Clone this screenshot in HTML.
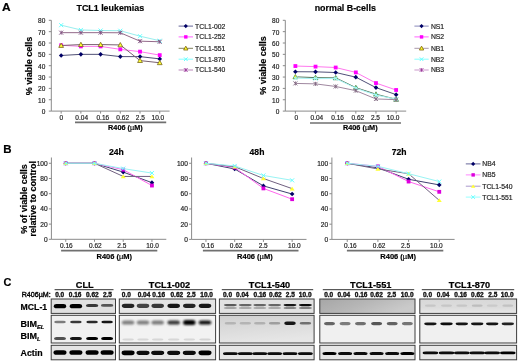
<!DOCTYPE html><html><head><meta charset="utf-8"><style>html,body{margin:0;padding:0;background:#fff;overflow:hidden;width:520px;height:362px;}svg{display:block;filter:blur(0.35px);}text{font-family:"Liberation Sans",sans-serif;stroke:currentColor;stroke-width:0.18px;}</style></head><body>
<svg width="520" height="362" viewBox="0 0 520 362">
<rect width="520" height="362" fill="#fff"/>
<text transform="translate(2.0,10.9) scale(1.13,1)" font-size="10.6" font-weight="bold">A</text>
<line x1="51.3" y1="20.3" x2="51.3" y2="111.1" stroke="#8a8a8a" stroke-width="1"/>
<line x1="51.3" y1="111.1" x2="169.6" y2="111.1" stroke="#8a8a8a" stroke-width="1"/>
<line x1="48.8" y1="111.10" x2="51.3" y2="111.10" stroke="#8a8a8a" stroke-width="1"/>
<text x="45.30" y="114.10" font-size="6.5" font-weight="normal" text-anchor="end" fill="#222" color="#222" >0</text>
<line x1="48.8" y1="99.75" x2="51.3" y2="99.75" stroke="#8a8a8a" stroke-width="1"/>
<text x="45.30" y="102.75" font-size="6.5" font-weight="normal" text-anchor="end" fill="#222" color="#222" >10</text>
<line x1="48.8" y1="88.40" x2="51.3" y2="88.40" stroke="#8a8a8a" stroke-width="1"/>
<text x="45.30" y="91.40" font-size="6.5" font-weight="normal" text-anchor="end" fill="#222" color="#222" >20</text>
<line x1="48.8" y1="77.05" x2="51.3" y2="77.05" stroke="#8a8a8a" stroke-width="1"/>
<text x="45.30" y="80.05" font-size="6.5" font-weight="normal" text-anchor="end" fill="#222" color="#222" >30</text>
<line x1="48.8" y1="65.70" x2="51.3" y2="65.70" stroke="#8a8a8a" stroke-width="1"/>
<text x="45.30" y="68.70" font-size="6.5" font-weight="normal" text-anchor="end" fill="#222" color="#222" >40</text>
<line x1="48.8" y1="54.35" x2="51.3" y2="54.35" stroke="#8a8a8a" stroke-width="1"/>
<text x="45.30" y="57.35" font-size="6.5" font-weight="normal" text-anchor="end" fill="#222" color="#222" >50</text>
<line x1="48.8" y1="43.00" x2="51.3" y2="43.00" stroke="#8a8a8a" stroke-width="1"/>
<text x="45.30" y="46.00" font-size="6.5" font-weight="normal" text-anchor="end" fill="#222" color="#222" >60</text>
<line x1="48.8" y1="31.65" x2="51.3" y2="31.65" stroke="#8a8a8a" stroke-width="1"/>
<text x="45.30" y="34.65" font-size="6.5" font-weight="normal" text-anchor="end" fill="#222" color="#222" >70</text>
<line x1="48.8" y1="20.30" x2="51.3" y2="20.30" stroke="#8a8a8a" stroke-width="1"/>
<text x="45.30" y="23.30" font-size="6.5" font-weight="normal" text-anchor="end" fill="#222" color="#222" >80</text>
<line x1="61.16" y1="111.1" x2="61.16" y2="113.6" stroke="#8a8a8a" stroke-width="1"/>
<text x="61.20" y="120.30" font-size="6.5" font-weight="normal" text-anchor="middle" fill="#222" color="#222" >0</text>
<line x1="80.88" y1="111.1" x2="80.88" y2="113.6" stroke="#8a8a8a" stroke-width="1"/>
<text x="81.70" y="120.30" font-size="6.5" font-weight="normal" text-anchor="middle" fill="#222" color="#222" >0.04</text>
<line x1="100.59" y1="111.1" x2="100.59" y2="113.6" stroke="#8a8a8a" stroke-width="1"/>
<text x="102.80" y="120.30" font-size="6.5" font-weight="normal" text-anchor="middle" fill="#222" color="#222" >0.16</text>
<line x1="120.31" y1="111.1" x2="120.31" y2="113.6" stroke="#8a8a8a" stroke-width="1"/>
<text x="122.70" y="120.30" font-size="6.5" font-weight="normal" text-anchor="middle" fill="#222" color="#222" >0.62</text>
<line x1="140.02" y1="111.1" x2="140.02" y2="113.6" stroke="#8a8a8a" stroke-width="1"/>
<text x="140.30" y="120.30" font-size="6.5" font-weight="normal" text-anchor="middle" fill="#222" color="#222" >2.5</text>
<line x1="159.74" y1="111.1" x2="159.74" y2="113.6" stroke="#8a8a8a" stroke-width="1"/>
<text x="157.90" y="120.30" font-size="6.5" font-weight="normal" text-anchor="middle" fill="#222" color="#222" >10.0</text>
<polyline points="61.16,55.48 80.88,54.35 100.59,54.35 120.31,56.62 140.02,56.62 159.74,58.89" fill="none" stroke="#505075" stroke-width="1"/>
<path d="M61.16 53.18L63.46 55.48L61.16 57.78L58.86 55.48Z" fill="#000066"/>
<path d="M80.88 52.05L83.17 54.35L80.88 56.65L78.58 54.35Z" fill="#000066"/>
<path d="M100.59 52.05L102.89 54.35L100.59 56.65L98.29 54.35Z" fill="#000066"/>
<path d="M120.31 54.32L122.61 56.62L120.31 58.92L118.01 56.62Z" fill="#000066"/>
<path d="M140.02 54.32L142.32 56.62L140.02 58.92L137.72 56.62Z" fill="#000066"/>
<path d="M159.74 56.59L162.04 58.89L159.74 61.19L157.44 58.89Z" fill="#000066"/>
<polyline points="61.16,45.27 80.88,46.40 100.59,46.40 120.31,49.36 140.02,51.63 159.74,55.14" fill="none" stroke="#ff77ee" stroke-width="1"/>
<rect x="59.26" y="43.37" width="3.80" height="3.80" fill="#ff00ff"/>
<rect x="78.97" y="44.50" width="3.80" height="3.80" fill="#ff00ff"/>
<rect x="98.69" y="44.50" width="3.80" height="3.80" fill="#ff00ff"/>
<rect x="118.41" y="47.46" width="3.80" height="3.80" fill="#ff00ff"/>
<rect x="138.12" y="49.73" width="3.80" height="3.80" fill="#ff00ff"/>
<rect x="157.84" y="53.24" width="3.80" height="3.80" fill="#ff00ff"/>
<polyline points="61.16,45.50 80.88,44.59 100.59,44.59 120.31,44.93 140.02,60.59 159.74,62.75" fill="none" stroke="#7a6070" stroke-width="1"/>
<path d="M61.16 43.10L63.56 47.42L58.76 47.42Z" fill="#ffff33" stroke="#7a6a20" stroke-width="0.8"/>
<path d="M80.88 42.19L83.28 46.51L78.47 46.51Z" fill="#ffff33" stroke="#7a6a20" stroke-width="0.8"/>
<path d="M100.59 42.19L102.99 46.51L98.19 46.51Z" fill="#ffff33" stroke="#7a6a20" stroke-width="0.8"/>
<path d="M120.31 42.53L122.71 46.85L117.91 46.85Z" fill="#ffff33" stroke="#7a6a20" stroke-width="0.8"/>
<path d="M140.02 58.19L142.42 62.51L137.62 62.51Z" fill="#ffff33" stroke="#7a6a20" stroke-width="0.8"/>
<path d="M159.74 60.35L162.14 64.67L157.34 64.67Z" fill="#ffff33" stroke="#7a6a20" stroke-width="0.8"/>
<polyline points="61.16,25.18 80.88,29.95 100.59,30.52 120.31,30.74 140.02,36.19 159.74,40.73" fill="none" stroke="#99eeee" stroke-width="1"/>
<path d="M59.16 23.18L63.16 27.18M63.16 23.18L59.16 27.18" stroke="#66ffff" stroke-width="1"/>
<path d="M78.88 27.95L82.88 31.95M82.88 27.95L78.88 31.95" stroke="#66ffff" stroke-width="1"/>
<path d="M98.59 28.52L102.59 32.52M102.59 28.52L98.59 32.52" stroke="#66ffff" stroke-width="1"/>
<path d="M118.31 28.74L122.31 32.74M122.31 28.74L118.31 32.74" stroke="#66ffff" stroke-width="1"/>
<path d="M138.02 34.19L142.02 38.19M142.02 34.19L138.02 38.19" stroke="#66ffff" stroke-width="1"/>
<path d="M157.74 38.73L161.74 42.73M161.74 38.73L157.74 42.73" stroke="#66ffff" stroke-width="1"/>
<polyline points="61.16,32.67 80.88,32.67 100.59,32.67 120.31,32.78 140.02,41.18 159.74,41.75" fill="none" stroke="#946a8a" stroke-width="1"/>
<path d="M59.16 30.67L63.16 34.67M63.16 30.67L59.16 34.67M61.16 30.67L61.16 34.67" stroke="#805080" stroke-width="0.9"/>
<path d="M78.88 30.67L82.88 34.67M82.88 30.67L78.88 34.67M80.88 30.67L80.88 34.67" stroke="#805080" stroke-width="0.9"/>
<path d="M98.59 30.67L102.59 34.67M102.59 30.67L98.59 34.67M100.59 30.67L100.59 34.67" stroke="#805080" stroke-width="0.9"/>
<path d="M118.31 30.78L122.31 34.78M122.31 30.78L118.31 34.78M120.31 30.78L120.31 34.78" stroke="#805080" stroke-width="0.9"/>
<path d="M138.02 39.18L142.02 43.18M142.02 39.18L138.02 43.18M140.02 39.18L140.02 43.18" stroke="#805080" stroke-width="0.9"/>
<path d="M157.74 39.75L161.74 43.75M161.74 39.75L157.74 43.75M159.74 39.75L159.74 43.75" stroke="#805080" stroke-width="0.9"/>
<text x="110.30" y="11.20" font-size="8.9" font-weight="bold" text-anchor="middle" fill="#000" color="#000" >TCL1 leukemias</text>
<text transform="translate(32.4,65.9) rotate(-90)" font-size="9" font-weight="bold" text-anchor="middle">% viable cells</text>
<line x1="75" y1="122.4" x2="166.2" y2="122.4" stroke="#707070" stroke-width="1.7"/>
<text x="125.40" y="129.90" font-size="7.3" font-weight="bold" text-anchor="middle">R406 (<tspan font-weight="normal">&#181;</tspan>M)</text>
<line x1="178.6" y1="26.1" x2="193" y2="26.1" stroke="#666699" stroke-width="1"/>
<path d="M185.80 24.03L187.87 26.10L185.80 28.17L183.73 26.10Z" fill="#000066"/>
<text x="195.10" y="28.50" font-size="6.8" font-weight="normal" text-anchor="start" fill="#222" color="#222" >TCL1-002</text>
<line x1="178.6" y1="36.9" x2="193" y2="36.9" stroke="#ff66ff" stroke-width="1"/>
<rect x="184.09" y="35.19" width="3.42" height="3.42" fill="#ff00ff"/>
<text x="195.10" y="39.30" font-size="6.8" font-weight="normal" text-anchor="start" fill="#222" color="#222" >TCL1-252</text>
<line x1="178.6" y1="48.3" x2="193" y2="48.3" stroke="#808060" stroke-width="1"/>
<path d="M185.80 46.14L187.96 50.03L183.64 50.03Z" fill="#ffff33" stroke="#806600" stroke-width="0.8"/>
<text x="195.10" y="50.70" font-size="6.8" font-weight="normal" text-anchor="start" fill="#222" color="#222" >TCL1-551</text>
<line x1="178.6" y1="59.2" x2="193" y2="59.2" stroke="#88ffff" stroke-width="1"/>
<path d="M184.00 57.40L187.60 61.00M187.60 57.40L184.00 61.00" stroke="#66ffff" stroke-width="1"/>
<text x="195.10" y="61.60" font-size="6.8" font-weight="normal" text-anchor="start" fill="#222" color="#222" >TCL1-870</text>
<line x1="178.6" y1="70.0" x2="193" y2="70.0" stroke="#bb88bb" stroke-width="1"/>
<path d="M184.00 68.20L187.60 71.80M187.60 68.20L184.00 71.80M185.80 68.20L185.80 71.80" stroke="#993399" stroke-width="0.9"/>
<text x="195.10" y="72.40" font-size="6.8" font-weight="normal" text-anchor="start" fill="#222" color="#222" >TCL1-540</text>
<line x1="285.3" y1="20.3" x2="285.3" y2="111.1" stroke="#8a8a8a" stroke-width="1"/>
<line x1="285.3" y1="111.1" x2="406.2" y2="111.1" stroke="#8a8a8a" stroke-width="1"/>
<line x1="282.8" y1="111.10" x2="285.3" y2="111.10" stroke="#8a8a8a" stroke-width="1"/>
<text x="279.30" y="114.10" font-size="6.5" font-weight="normal" text-anchor="end" fill="#222" color="#222" >0</text>
<line x1="282.8" y1="99.75" x2="285.3" y2="99.75" stroke="#8a8a8a" stroke-width="1"/>
<text x="279.30" y="102.75" font-size="6.5" font-weight="normal" text-anchor="end" fill="#222" color="#222" >10</text>
<line x1="282.8" y1="88.40" x2="285.3" y2="88.40" stroke="#8a8a8a" stroke-width="1"/>
<text x="279.30" y="91.40" font-size="6.5" font-weight="normal" text-anchor="end" fill="#222" color="#222" >20</text>
<line x1="282.8" y1="77.05" x2="285.3" y2="77.05" stroke="#8a8a8a" stroke-width="1"/>
<text x="279.30" y="80.05" font-size="6.5" font-weight="normal" text-anchor="end" fill="#222" color="#222" >30</text>
<line x1="282.8" y1="65.70" x2="285.3" y2="65.70" stroke="#8a8a8a" stroke-width="1"/>
<text x="279.30" y="68.70" font-size="6.5" font-weight="normal" text-anchor="end" fill="#222" color="#222" >40</text>
<line x1="282.8" y1="54.35" x2="285.3" y2="54.35" stroke="#8a8a8a" stroke-width="1"/>
<text x="279.30" y="57.35" font-size="6.5" font-weight="normal" text-anchor="end" fill="#222" color="#222" >50</text>
<line x1="282.8" y1="43.00" x2="285.3" y2="43.00" stroke="#8a8a8a" stroke-width="1"/>
<text x="279.30" y="46.00" font-size="6.5" font-weight="normal" text-anchor="end" fill="#222" color="#222" >60</text>
<line x1="282.8" y1="31.65" x2="285.3" y2="31.65" stroke="#8a8a8a" stroke-width="1"/>
<text x="279.30" y="34.65" font-size="6.5" font-weight="normal" text-anchor="end" fill="#222" color="#222" >70</text>
<line x1="282.8" y1="20.30" x2="285.3" y2="20.30" stroke="#8a8a8a" stroke-width="1"/>
<text x="279.30" y="23.30" font-size="6.5" font-weight="normal" text-anchor="end" fill="#222" color="#222" >80</text>
<line x1="295.38" y1="111.1" x2="295.38" y2="113.6" stroke="#8a8a8a" stroke-width="1"/>
<text x="296.40" y="120.30" font-size="6.5" font-weight="normal" text-anchor="middle" fill="#222" color="#222" >0</text>
<line x1="315.52" y1="111.1" x2="315.52" y2="113.6" stroke="#8a8a8a" stroke-width="1"/>
<text x="316.90" y="120.30" font-size="6.5" font-weight="normal" text-anchor="middle" fill="#222" color="#222" >0.04</text>
<line x1="335.68" y1="111.1" x2="335.68" y2="113.6" stroke="#8a8a8a" stroke-width="1"/>
<text x="337.60" y="120.30" font-size="6.5" font-weight="normal" text-anchor="middle" fill="#222" color="#222" >0.16</text>
<line x1="355.82" y1="111.1" x2="355.82" y2="113.6" stroke="#8a8a8a" stroke-width="1"/>
<text x="357.80" y="120.30" font-size="6.5" font-weight="normal" text-anchor="middle" fill="#222" color="#222" >0.62</text>
<line x1="375.98" y1="111.1" x2="375.98" y2="113.6" stroke="#8a8a8a" stroke-width="1"/>
<text x="375.40" y="120.30" font-size="6.5" font-weight="normal" text-anchor="middle" fill="#222" color="#222" >2.5</text>
<line x1="396.12" y1="111.1" x2="396.12" y2="113.6" stroke="#8a8a8a" stroke-width="1"/>
<text x="393.00" y="120.30" font-size="6.5" font-weight="normal" text-anchor="middle" fill="#222" color="#222" >10.0</text>
<polyline points="295.38,71.72 315.52,71.83 335.68,72.51 355.82,77.16 375.98,87.61 396.12,94.64" fill="none" stroke="#505078" stroke-width="1"/>
<path d="M295.38 69.42L297.68 71.72L295.38 74.02L293.07 71.72Z" fill="#000066"/>
<path d="M315.52 69.53L317.82 71.83L315.52 74.13L313.22 71.83Z" fill="#000066"/>
<path d="M335.68 70.21L337.98 72.51L335.68 74.81L333.38 72.51Z" fill="#000066"/>
<path d="M355.82 74.86L358.12 77.16L355.82 79.46L353.52 77.16Z" fill="#000066"/>
<path d="M375.98 85.31L378.28 87.61L375.98 89.91L373.68 87.61Z" fill="#000066"/>
<path d="M396.12 92.34L398.43 94.64L396.12 96.94L393.82 94.64Z" fill="#000066"/>
<polyline points="295.38,66.04 315.52,66.61 335.68,67.52 355.82,72.40 375.98,83.07 396.12,89.99" fill="none" stroke="#ff77ee" stroke-width="1"/>
<rect x="293.48" y="64.14" width="3.80" height="3.80" fill="#ff00ff"/>
<rect x="313.62" y="64.71" width="3.80" height="3.80" fill="#ff00ff"/>
<rect x="333.78" y="65.62" width="3.80" height="3.80" fill="#ff00ff"/>
<rect x="353.93" y="70.50" width="3.80" height="3.80" fill="#ff00ff"/>
<rect x="374.08" y="81.17" width="3.80" height="3.80" fill="#ff00ff"/>
<rect x="394.23" y="88.09" width="3.80" height="3.80" fill="#ff00ff"/>
<polyline points="295.38,76.82 315.52,77.62 335.68,77.84 355.82,87.61 375.98,94.19 396.12,99.30" fill="none" stroke="#557a60" stroke-width="1"/>
<path d="M295.38 74.42L297.77 78.74L292.98 78.74Z" fill="#f4f430" stroke="#5a8a3a" stroke-width="0.8"/>
<path d="M315.52 75.22L317.92 79.54L313.12 79.54Z" fill="#b8e8a0" stroke="#4a8a4a" stroke-width="0.8"/>
<path d="M335.68 75.44L338.07 79.76L333.28 79.76Z" fill="#b8e8a0" stroke="#4a8a4a" stroke-width="0.8"/>
<path d="M355.82 85.21L358.22 89.53L353.43 89.53Z" fill="#b8e8a0" stroke="#4a8a4a" stroke-width="0.8"/>
<path d="M375.98 91.79L378.38 96.11L373.58 96.11Z" fill="#b8e8a0" stroke="#4a8a4a" stroke-width="0.8"/>
<path d="M396.12 96.90L398.52 101.22L393.73 101.22Z" fill="#b8e8a0" stroke="#4a8a4a" stroke-width="0.8"/>
<polyline points="295.38,78.19 315.52,78.64 335.68,78.53 355.82,88.17 375.98,95.10 396.12,99.07" fill="none" stroke="#aaf4f4" stroke-width="1"/>
<path d="M293.38 76.19L297.38 80.19M297.38 76.19L293.38 80.19" stroke="#99ffff" stroke-width="1"/>
<path d="M313.52 76.64L317.52 80.64M317.52 76.64L313.52 80.64" stroke="#99ffff" stroke-width="1"/>
<path d="M333.68 76.53L337.68 80.53M337.68 76.53L333.68 80.53" stroke="#99ffff" stroke-width="1"/>
<path d="M353.82 86.17L357.82 90.17M357.82 86.17L353.82 90.17" stroke="#99ffff" stroke-width="1"/>
<path d="M373.98 93.10L377.98 97.10M377.98 93.10L373.98 97.10" stroke="#99ffff" stroke-width="1"/>
<path d="M394.12 97.07L398.12 101.07M398.12 97.07L394.12 101.07" stroke="#99ffff" stroke-width="1"/>
<polyline points="295.38,83.41 315.52,83.86 335.68,86.47 355.82,90.67 375.98,98.96 396.12,99.64" fill="none" stroke="#a088a0" stroke-width="1"/>
<path d="M293.38 81.41L297.38 85.41M297.38 81.41L293.38 85.41M295.38 81.41L295.38 85.41" stroke="#806880" stroke-width="0.9"/>
<path d="M313.52 81.86L317.52 85.86M317.52 81.86L313.52 85.86M315.52 81.86L315.52 85.86" stroke="#806880" stroke-width="0.9"/>
<path d="M333.68 84.47L337.68 88.47M337.68 84.47L333.68 88.47M335.68 84.47L335.68 88.47" stroke="#806880" stroke-width="0.9"/>
<path d="M353.82 88.67L357.82 92.67M357.82 88.67L353.82 92.67M355.82 88.67L355.82 92.67" stroke="#806880" stroke-width="0.9"/>
<path d="M373.98 96.96L377.98 100.96M377.98 96.96L373.98 100.96M375.98 96.96L375.98 100.96" stroke="#806880" stroke-width="0.9"/>
<path d="M394.12 97.64L398.12 101.64M398.12 97.64L394.12 101.64M396.12 97.64L396.12 101.64" stroke="#806880" stroke-width="0.9"/>
<text x="345.30" y="11.20" font-size="8.9" font-weight="bold" text-anchor="middle" fill="#000" color="#000" >normal B-cells</text>
<text transform="translate(266.0,65.6) rotate(-90)" font-size="9" font-weight="bold" text-anchor="middle">% viable cells</text>
<line x1="310" y1="123.0" x2="401" y2="123.0" stroke="#707070" stroke-width="1.7"/>
<text x="360.30" y="129.90" font-size="7.3" font-weight="bold" text-anchor="middle">R406 (<tspan font-weight="normal">&#181;</tspan>M)</text>
<line x1="414.4" y1="26.1" x2="428.7" y2="26.1" stroke="#8888bb" stroke-width="1"/>
<path d="M421.55 24.03L423.62 26.10L421.55 28.17L419.48 26.10Z" fill="#000066"/>
<text x="430.90" y="28.50" font-size="6.8" font-weight="normal" text-anchor="start" fill="#222" color="#222" >NS1</text>
<line x1="414.4" y1="36.9" x2="428.7" y2="36.9" stroke="#ff66ff" stroke-width="1"/>
<rect x="419.84" y="35.19" width="3.42" height="3.42" fill="#ff00ff"/>
<text x="430.90" y="39.30" font-size="6.8" font-weight="normal" text-anchor="start" fill="#222" color="#222" >NS2</text>
<line x1="414.4" y1="48.3" x2="428.7" y2="48.3" stroke="#aa99aa" stroke-width="1"/>
<path d="M421.55 46.14L423.71 50.03L419.39 50.03Z" fill="#ffff33" stroke="#806600" stroke-width="0.8"/>
<text x="430.90" y="50.70" font-size="6.8" font-weight="normal" text-anchor="start" fill="#222" color="#222" >NB1</text>
<line x1="414.4" y1="59.2" x2="428.7" y2="59.2" stroke="#88ffff" stroke-width="1"/>
<path d="M419.75 57.40L423.35 61.00M423.35 57.40L419.75 61.00" stroke="#66ffff" stroke-width="1"/>
<text x="430.90" y="61.60" font-size="6.8" font-weight="normal" text-anchor="start" fill="#222" color="#222" >NB2</text>
<line x1="414.4" y1="70.0" x2="428.7" y2="70.0" stroke="#cc99cc" stroke-width="1"/>
<path d="M419.75 68.20L423.35 71.80M423.35 68.20L419.75 71.80M421.55 68.20L421.55 71.80" stroke="#993399" stroke-width="0.9"/>
<text x="430.90" y="72.40" font-size="6.8" font-weight="normal" text-anchor="start" fill="#222" color="#222" >NB3</text>
<text transform="translate(3.2,153.2) scale(1.13,1)" font-size="10.2" font-weight="bold">B</text>
<line x1="51.4" y1="157.5" x2="51.4" y2="239.3" stroke="#8a8a8a" stroke-width="1"/>
<line x1="51.4" y1="239.3" x2="166.3" y2="239.3" stroke="#8a8a8a" stroke-width="1"/>
<line x1="48.9" y1="239.30" x2="51.4" y2="239.30" stroke="#8a8a8a" stroke-width="1"/>
<text x="47.70" y="241.70" font-size="6.6" font-weight="normal" text-anchor="end" fill="#222" color="#222" >0</text>
<line x1="48.9" y1="224.10" x2="51.4" y2="224.10" stroke="#8a8a8a" stroke-width="1"/>
<text x="47.70" y="226.50" font-size="6.6" font-weight="normal" text-anchor="end" fill="#222" color="#222" >20</text>
<line x1="48.9" y1="208.89" x2="51.4" y2="208.89" stroke="#8a8a8a" stroke-width="1"/>
<text x="47.70" y="211.29" font-size="6.6" font-weight="normal" text-anchor="end" fill="#222" color="#222" >40</text>
<line x1="48.9" y1="193.69" x2="51.4" y2="193.69" stroke="#8a8a8a" stroke-width="1"/>
<text x="47.70" y="196.09" font-size="6.6" font-weight="normal" text-anchor="end" fill="#222" color="#222" >60</text>
<line x1="48.9" y1="178.48" x2="51.4" y2="178.48" stroke="#8a8a8a" stroke-width="1"/>
<text x="47.70" y="180.88" font-size="6.6" font-weight="normal" text-anchor="end" fill="#222" color="#222" >80</text>
<line x1="48.9" y1="163.28" x2="51.4" y2="163.28" stroke="#8a8a8a" stroke-width="1"/>
<text x="47.70" y="165.68" font-size="6.6" font-weight="normal" text-anchor="end" fill="#222" color="#222" >100</text>
<line x1="65.76" y1="239.3" x2="65.76" y2="241.8" stroke="#8a8a8a" stroke-width="1"/>
<text x="66.30" y="248.20" font-size="6.5" font-weight="normal" text-anchor="middle" fill="#222" color="#222" >0.16</text>
<line x1="94.49" y1="239.3" x2="94.49" y2="241.8" stroke="#8a8a8a" stroke-width="1"/>
<text x="95.40" y="248.20" font-size="6.5" font-weight="normal" text-anchor="middle" fill="#222" color="#222" >0.62</text>
<line x1="123.21" y1="239.3" x2="123.21" y2="241.8" stroke="#8a8a8a" stroke-width="1"/>
<text x="121.80" y="248.20" font-size="6.5" font-weight="normal" text-anchor="middle" fill="#222" color="#222" >2.5</text>
<line x1="151.94" y1="239.3" x2="151.94" y2="241.8" stroke="#8a8a8a" stroke-width="1"/>
<text x="152.50" y="248.20" font-size="6.5" font-weight="normal" text-anchor="middle" fill="#222" color="#222" >10.0</text>
<polyline points="65.76,163.28 94.49,163.28 123.21,172.10 151.94,182.66" fill="none" stroke="#404070" stroke-width="1"/>
<path d="M65.76 160.98L68.06 163.28L65.76 165.58L63.46 163.28Z" fill="#000066"/>
<path d="M94.49 160.98L96.79 163.28L94.49 165.58L92.19 163.28Z" fill="#000066"/>
<path d="M123.21 169.80L125.51 172.10L123.21 174.40L120.91 172.10Z" fill="#000066"/>
<path d="M151.94 180.36L154.24 182.66L151.94 184.96L149.64 182.66Z" fill="#000066"/>
<polyline points="65.76,163.28 94.49,163.28 123.21,169.66 151.94,185.55" fill="none" stroke="#ff66ee" stroke-width="1"/>
<rect x="63.86" y="161.38" width="3.80" height="3.80" fill="#dd00dd"/>
<rect x="92.59" y="161.38" width="3.80" height="3.80" fill="#dd00dd"/>
<rect x="121.31" y="167.76" width="3.80" height="3.80" fill="#dd00dd"/>
<rect x="150.04" y="183.65" width="3.80" height="3.80" fill="#dd00dd"/>
<polyline points="65.76,163.28 94.49,163.28 123.21,176.43 151.94,176.43" fill="none" stroke="#706080" stroke-width="1"/>
<path d="M65.76 161.28L68.26 165.03L63.26 165.03Z" fill="#ffff33"/>
<path d="M94.49 161.28L96.99 165.03L91.99 165.03Z" fill="#ffff33"/>
<path d="M123.21 174.43L125.71 178.18L120.71 178.18Z" fill="#ffff33"/>
<path d="M151.94 174.43L154.44 178.18L149.44 178.18Z" fill="#ffff33"/>
<polyline points="65.76,163.28 94.49,163.28 123.21,168.60 151.94,173.08" fill="none" stroke="#99f4f4" stroke-width="1"/>
<path d="M63.76 161.28L67.76 165.28M67.76 161.28L63.76 165.28" stroke="#66ffff" stroke-width="1"/>
<path d="M92.49 161.28L96.49 165.28M96.49 161.28L92.49 165.28" stroke="#66ffff" stroke-width="1"/>
<path d="M121.21 166.60L125.21 170.60M125.21 166.60L121.21 170.60" stroke="#66ffff" stroke-width="1"/>
<path d="M149.94 171.08L153.94 175.08M153.94 171.08L149.94 175.08" stroke="#66ffff" stroke-width="1"/>
<line x1="191.6" y1="157.5" x2="191.6" y2="239.4" stroke="#8a8a8a" stroke-width="1"/>
<line x1="191.6" y1="239.4" x2="306.5" y2="239.4" stroke="#8a8a8a" stroke-width="1"/>
<line x1="189.1" y1="239.40" x2="191.6" y2="239.40" stroke="#8a8a8a" stroke-width="1"/>
<text x="187.90" y="241.80" font-size="6.6" font-weight="normal" text-anchor="end" fill="#222" color="#222" >0</text>
<line x1="189.1" y1="224.18" x2="191.6" y2="224.18" stroke="#8a8a8a" stroke-width="1"/>
<text x="187.90" y="226.58" font-size="6.6" font-weight="normal" text-anchor="end" fill="#222" color="#222" >20</text>
<line x1="189.1" y1="208.95" x2="191.6" y2="208.95" stroke="#8a8a8a" stroke-width="1"/>
<text x="187.90" y="211.35" font-size="6.6" font-weight="normal" text-anchor="end" fill="#222" color="#222" >40</text>
<line x1="189.1" y1="193.73" x2="191.6" y2="193.73" stroke="#8a8a8a" stroke-width="1"/>
<text x="187.90" y="196.13" font-size="6.6" font-weight="normal" text-anchor="end" fill="#222" color="#222" >60</text>
<line x1="189.1" y1="178.51" x2="191.6" y2="178.51" stroke="#8a8a8a" stroke-width="1"/>
<text x="187.90" y="180.91" font-size="6.6" font-weight="normal" text-anchor="end" fill="#222" color="#222" >80</text>
<line x1="189.1" y1="163.28" x2="191.6" y2="163.28" stroke="#8a8a8a" stroke-width="1"/>
<text x="187.90" y="165.68" font-size="6.6" font-weight="normal" text-anchor="end" fill="#222" color="#222" >100</text>
<line x1="205.96" y1="239.4" x2="205.96" y2="241.9" stroke="#8a8a8a" stroke-width="1"/>
<text x="207.70" y="248.30" font-size="6.5" font-weight="normal" text-anchor="middle" fill="#222" color="#222" >0.16</text>
<line x1="234.69" y1="239.4" x2="234.69" y2="241.9" stroke="#8a8a8a" stroke-width="1"/>
<text x="236.10" y="248.30" font-size="6.5" font-weight="normal" text-anchor="middle" fill="#222" color="#222" >0.62</text>
<line x1="263.41" y1="239.4" x2="263.41" y2="241.9" stroke="#8a8a8a" stroke-width="1"/>
<text x="263.20" y="248.30" font-size="6.5" font-weight="normal" text-anchor="middle" fill="#222" color="#222" >2.5</text>
<line x1="292.14" y1="239.4" x2="292.14" y2="241.9" stroke="#8a8a8a" stroke-width="1"/>
<text x="294.40" y="248.30" font-size="6.5" font-weight="normal" text-anchor="middle" fill="#222" color="#222" >10.0</text>
<polyline points="205.96,163.28 234.69,168.99 263.41,185.89 292.14,194.04" fill="none" stroke="#404070" stroke-width="1"/>
<path d="M205.96 160.98L208.26 163.28L205.96 165.58L203.66 163.28Z" fill="#000066"/>
<path d="M234.69 166.69L236.99 168.99L234.69 171.29L232.39 168.99Z" fill="#000066"/>
<path d="M263.41 183.59L265.71 185.89L263.41 188.19L261.11 185.89Z" fill="#000066"/>
<path d="M292.14 191.74L294.44 194.04L292.14 196.34L289.84 194.04Z" fill="#000066"/>
<polyline points="205.96,163.28 234.69,167.47 263.41,188.40 292.14,199.21" fill="none" stroke="#ff66ee" stroke-width="1"/>
<rect x="204.06" y="161.38" width="3.80" height="3.80" fill="#dd00dd"/>
<rect x="232.79" y="165.57" width="3.80" height="3.80" fill="#dd00dd"/>
<rect x="261.51" y="186.50" width="3.80" height="3.80" fill="#dd00dd"/>
<rect x="290.24" y="197.31" width="3.80" height="3.80" fill="#dd00dd"/>
<polyline points="205.96,163.28 234.69,166.71 263.41,178.51 292.14,188.63" fill="none" stroke="#706080" stroke-width="1"/>
<path d="M205.96 161.28L208.46 165.03L203.46 165.03Z" fill="#ffff33"/>
<path d="M234.69 164.71L237.19 168.46L232.19 168.46Z" fill="#ffff33"/>
<path d="M263.41 176.51L265.91 180.26L260.91 180.26Z" fill="#ffff33"/>
<path d="M292.14 186.63L294.64 190.38L289.64 190.38Z" fill="#ffff33"/>
<polyline points="205.96,163.28 234.69,165.95 263.41,175.46 292.14,180.33" fill="none" stroke="#99f4f4" stroke-width="1"/>
<path d="M203.96 161.28L207.96 165.28M207.96 161.28L203.96 165.28" stroke="#66ffff" stroke-width="1"/>
<path d="M232.69 163.95L236.69 167.95M236.69 163.95L232.69 167.95" stroke="#66ffff" stroke-width="1"/>
<path d="M261.41 173.46L265.41 177.46M265.41 173.46L261.41 177.46" stroke="#66ffff" stroke-width="1"/>
<path d="M290.14 178.33L294.14 182.33M294.14 178.33L290.14 182.33" stroke="#66ffff" stroke-width="1"/>
<line x1="331.9" y1="157.5" x2="331.9" y2="239.4" stroke="#8a8a8a" stroke-width="1"/>
<line x1="331.9" y1="239.4" x2="454.6" y2="239.4" stroke="#8a8a8a" stroke-width="1"/>
<line x1="329.4" y1="239.40" x2="331.9" y2="239.40" stroke="#8a8a8a" stroke-width="1"/>
<text x="328.20" y="241.80" font-size="6.6" font-weight="normal" text-anchor="end" fill="#222" color="#222" >0</text>
<line x1="329.4" y1="224.18" x2="331.9" y2="224.18" stroke="#8a8a8a" stroke-width="1"/>
<text x="328.20" y="226.58" font-size="6.6" font-weight="normal" text-anchor="end" fill="#222" color="#222" >20</text>
<line x1="329.4" y1="208.95" x2="331.9" y2="208.95" stroke="#8a8a8a" stroke-width="1"/>
<text x="328.20" y="211.35" font-size="6.6" font-weight="normal" text-anchor="end" fill="#222" color="#222" >40</text>
<line x1="329.4" y1="193.73" x2="331.9" y2="193.73" stroke="#8a8a8a" stroke-width="1"/>
<text x="328.20" y="196.13" font-size="6.6" font-weight="normal" text-anchor="end" fill="#222" color="#222" >60</text>
<line x1="329.4" y1="178.51" x2="331.9" y2="178.51" stroke="#8a8a8a" stroke-width="1"/>
<text x="328.20" y="180.91" font-size="6.6" font-weight="normal" text-anchor="end" fill="#222" color="#222" >80</text>
<line x1="329.4" y1="163.28" x2="331.9" y2="163.28" stroke="#8a8a8a" stroke-width="1"/>
<text x="328.20" y="165.68" font-size="6.6" font-weight="normal" text-anchor="end" fill="#222" color="#222" >100</text>
<line x1="347.24" y1="239.4" x2="347.24" y2="241.9" stroke="#8a8a8a" stroke-width="1"/>
<text x="350.40" y="248.30" font-size="6.5" font-weight="normal" text-anchor="middle" fill="#222" color="#222" >0.16</text>
<line x1="377.91" y1="239.4" x2="377.91" y2="241.9" stroke="#8a8a8a" stroke-width="1"/>
<text x="379.10" y="248.30" font-size="6.5" font-weight="normal" text-anchor="middle" fill="#222" color="#222" >0.62</text>
<line x1="408.59" y1="239.4" x2="408.59" y2="241.9" stroke="#8a8a8a" stroke-width="1"/>
<text x="405.50" y="248.30" font-size="6.5" font-weight="normal" text-anchor="middle" fill="#222" color="#222" >2.5</text>
<line x1="439.26" y1="239.4" x2="439.26" y2="241.9" stroke="#8a8a8a" stroke-width="1"/>
<text x="436.40" y="248.30" font-size="6.5" font-weight="normal" text-anchor="middle" fill="#222" color="#222" >10.0</text>
<polyline points="347.24,163.28 377.91,167.85 408.59,179.27 439.26,184.90" fill="none" stroke="#404070" stroke-width="1"/>
<path d="M347.24 160.98L349.54 163.28L347.24 165.58L344.94 163.28Z" fill="#000066"/>
<path d="M377.91 165.55L380.21 167.85L377.91 170.15L375.61 167.85Z" fill="#000066"/>
<path d="M408.59 176.97L410.89 179.27L408.59 181.57L406.29 179.27Z" fill="#000066"/>
<path d="M439.26 182.60L441.56 184.90L439.26 187.20L436.96 184.90Z" fill="#000066"/>
<polyline points="347.24,163.28 377.91,166.33 408.59,181.55 439.26,191.83" fill="none" stroke="#ff66ee" stroke-width="1"/>
<rect x="345.34" y="161.38" width="3.80" height="3.80" fill="#dd00dd"/>
<rect x="376.01" y="164.43" width="3.80" height="3.80" fill="#dd00dd"/>
<rect x="406.69" y="179.65" width="3.80" height="3.80" fill="#dd00dd"/>
<rect x="437.36" y="189.93" width="3.80" height="3.80" fill="#dd00dd"/>
<polyline points="347.24,163.28 377.91,168.99 408.59,173.71 439.26,200.35" fill="none" stroke="#706080" stroke-width="1"/>
<path d="M347.24 161.28L349.74 165.03L344.74 165.03Z" fill="#ffff33"/>
<path d="M377.91 166.99L380.41 170.74L375.41 170.74Z" fill="#ffff33"/>
<path d="M408.59 171.71L411.09 175.46L406.09 175.46Z" fill="#ffff33"/>
<path d="M439.26 198.35L441.76 202.10L436.76 202.10Z" fill="#ffff33"/>
<polyline points="347.24,163.28 377.91,166.33 408.59,173.71 439.26,181.55" fill="none" stroke="#99f4f4" stroke-width="1"/>
<path d="M345.24 161.28L349.24 165.28M349.24 161.28L345.24 165.28" stroke="#66ffff" stroke-width="1"/>
<path d="M375.91 164.33L379.91 168.33M379.91 164.33L375.91 168.33" stroke="#66ffff" stroke-width="1"/>
<path d="M406.59 171.71L410.59 175.71M410.59 171.71L406.59 175.71" stroke="#66ffff" stroke-width="1"/>
<path d="M437.26 179.55L441.26 183.55M441.26 179.55L437.26 183.55" stroke="#66ffff" stroke-width="1"/>
<text x="116.30" y="155.10" font-size="8.6" font-weight="bold" text-anchor="middle" fill="#000" color="#000" >24h</text>
<text x="257.00" y="155.10" font-size="8.6" font-weight="bold" text-anchor="middle" fill="#000" color="#000" >48h</text>
<text x="399.10" y="155.10" font-size="8.6" font-weight="bold" text-anchor="middle" fill="#000" color="#000" >72h</text>
<line x1="61.1" y1="250.6" x2="157.3" y2="250.6" stroke="#707070" stroke-width="1.7"/>
<text x="114.30" y="258.70" font-size="7.5" font-weight="bold" text-anchor="middle">R406 (<tspan font-weight="normal">&#181;</tspan>M)</text>
<line x1="202.9" y1="250.6" x2="298.5" y2="250.6" stroke="#707070" stroke-width="1.7"/>
<text x="254.90" y="258.70" font-size="7.5" font-weight="bold" text-anchor="middle">R406 (<tspan font-weight="normal">&#181;</tspan>M)</text>
<line x1="346.9" y1="250.6" x2="443.3" y2="250.6" stroke="#707070" stroke-width="1.7"/>
<text x="398.10" y="258.70" font-size="7.5" font-weight="bold" text-anchor="middle">R406 (<tspan font-weight="normal">&#181;</tspan>M)</text>
<text transform="translate(26.6,199) rotate(-90)" font-size="9" font-weight="bold" text-anchor="middle">% of viable cells</text>
<text transform="translate(36.2,198.7) rotate(-90)" font-size="9" font-weight="bold" text-anchor="middle">relative to control</text>
<line x1="465.8" y1="163.9" x2="480.5" y2="163.9" stroke="#666699" stroke-width="1"/>
<path d="M473.15 161.83L475.22 163.90L473.15 165.97L471.08 163.90Z" fill="#000066"/>
<text x="482.30" y="166.30" font-size="6.8" font-weight="normal" text-anchor="start" fill="#222" color="#222" >NB4</text>
<line x1="465.8" y1="174.9" x2="480.5" y2="174.9" stroke="#ff88ff" stroke-width="1"/>
<rect x="471.44" y="173.19" width="3.42" height="3.42" fill="#dd00dd"/>
<text x="482.30" y="177.30" font-size="6.8" font-weight="normal" text-anchor="start" fill="#222" color="#222" >NB5</text>
<line x1="465.8" y1="186.2" x2="480.5" y2="186.2" stroke="#aa99cc" stroke-width="1"/>
<path d="M473.15 184.40L475.40 187.77L470.90 187.77Z" fill="#ffff33"/>
<text x="482.30" y="188.60" font-size="6.8" font-weight="normal" text-anchor="start" fill="#222" color="#222" >TCL1-540</text>
<line x1="465.8" y1="197.1" x2="480.5" y2="197.1" stroke="#99ffff" stroke-width="1"/>
<path d="M471.35 195.30L474.95 198.90M474.95 195.30L471.35 198.90" stroke="#66ffff" stroke-width="1"/>
<text x="482.30" y="199.50" font-size="6.8" font-weight="normal" text-anchor="start" fill="#222" color="#222" >TCL1-551</text>
<text transform="translate(3.6,285.8) scale(1.05,1)" font-size="10.4" font-weight="bold">C</text>
<text x="21.70" y="297.00" font-size="7.1" font-weight="normal" text-anchor="start" fill="#000" color="#000" style="stroke-width:0.35px">R406&#181;M:</text>
<text x="20.60" y="310.40" font-size="8.7" font-weight="bold" text-anchor="start" fill="#000" color="#000" >MCL-1</text>
<text x="20.6" y="327" font-size="9.0" font-weight="bold">BIM<tspan font-size="5.6" dy="1.8" font-style="italic">EL</tspan></text>
<text x="20.6" y="338.7" font-size="9.0" font-weight="bold">BIM<tspan font-size="5.6" dy="1.8" font-style="italic">L</tspan></text>
<text x="20.60" y="356.40" font-size="8.8" font-weight="bold" text-anchor="start" fill="#000" color="#000" >Actin</text>
<defs><filter id="bl" x="-30%" y="-100%" width="160%" height="300%"><feGaussianBlur stdDeviation="0.5 0.45"/></filter><filter id="bl2" x="-30%" y="-100%" width="160%" height="300%"><feGaussianBlur stdDeviation="0.9 0.8"/></filter><linearGradient id="g551" x1="0" y1="0" x2="1" y2="0.4"><stop offset="0" stop-color="#a6a6a6"/><stop offset="0.5" stop-color="#b6b6b6"/><stop offset="1" stop-color="#cacaca"/></linearGradient><linearGradient id="g540" x1="0" y1="0" x2="0.3" y2="1"><stop offset="0" stop-color="#d0d0d0"/><stop offset="1" stop-color="#e6e6e6"/></linearGradient><linearGradient id="g870" x1="0" y1="0" x2="0" y2="1"><stop offset="0" stop-color="#d8d8d8"/><stop offset="0.6" stop-color="#dcdcdc"/><stop offset="1" stop-color="#e8e8e8"/></linearGradient></defs>
<text x="84.70" y="287.60" font-size="9.2" font-weight="bold" text-anchor="middle" fill="#000" color="#000" style="stroke-width:0.22px">CLL</text>
<line x1="54.6" y1="289.7" x2="113.5" y2="289.7" stroke="#333" stroke-width="1"/>
<text x="59.70" y="296.60" font-size="6.5" font-weight="bold" text-anchor="middle" fill="#111" color="#111" style="stroke-width:0.35px">0.0</text>
<text x="75.10" y="296.60" font-size="6.5" font-weight="bold" text-anchor="middle" fill="#111" color="#111" style="stroke-width:0.35px">0.16</text>
<text x="92.30" y="296.60" font-size="6.5" font-weight="bold" text-anchor="middle" fill="#111" color="#111" style="stroke-width:0.35px">0.62</text>
<text x="107.40" y="296.60" font-size="6.5" font-weight="bold" text-anchor="middle" fill="#111" color="#111" style="stroke-width:0.35px">2.5</text>
<rect x="51.20" y="299.00" width="64.30" height="14.40" fill="#e0e0e0" stroke="#3c3c3c" stroke-width="1"/>
<rect x="51.20" y="315.30" width="64.30" height="27.70" fill="#f0f0f0" stroke="#3c3c3c" stroke-width="1"/>
<rect x="51.20" y="345.30" width="64.30" height="14.50" fill="#e4e4e4" stroke="#3c3c3c" stroke-width="1"/>
<rect x="53.80" y="304.10" width="12.40" height="4.20" rx="2.79" ry="2.10" fill="rgb(0,0,0)" filter="url(#bl)"/>
<rect x="69.70" y="304.10" width="12.40" height="4.20" rx="2.79" ry="2.10" fill="rgb(0,0,0)" filter="url(#bl)"/>
<rect x="85.90" y="303.90" width="12.40" height="3.00" rx="2.79" ry="1.50" fill="rgb(56,56,56)" filter="url(#bl)"/>
<rect x="100.90" y="304.00" width="12.40" height="2.80" rx="2.79" ry="1.40" fill="rgb(86,86,86)" filter="url(#bl)"/>
<rect x="54.25" y="320.70" width="11.50" height="2.60" rx="2.59" ry="1.30" fill="rgb(124,124,124)" filter="url(#bl)"/>
<rect x="70.15" y="320.70" width="11.50" height="2.60" rx="2.59" ry="1.30" fill="rgb(56,56,56)" filter="url(#bl)"/>
<rect x="86.35" y="320.70" width="11.50" height="2.60" rx="2.59" ry="1.30" fill="rgb(41,41,41)" filter="url(#bl)"/>
<rect x="101.35" y="320.70" width="11.50" height="2.60" rx="2.59" ry="1.30" fill="rgb(22,22,22)" filter="url(#bl)"/>
<rect x="54.00" y="337.10" width="12.00" height="3.00" rx="2.70" ry="1.50" fill="rgb(79,79,79)" filter="url(#bl)"/>
<rect x="69.90" y="337.10" width="12.00" height="3.00" rx="2.70" ry="1.50" fill="rgb(18,18,18)" filter="url(#bl)"/>
<rect x="86.10" y="337.10" width="12.00" height="3.00" rx="2.70" ry="1.50" fill="rgb(0,0,0)" filter="url(#bl)"/>
<rect x="101.10" y="337.10" width="12.00" height="3.00" rx="2.70" ry="1.50" fill="rgb(0,0,0)" filter="url(#bl)"/>
<rect x="53.50" y="350.20" width="13.00" height="4.60" rx="2.93" ry="2.30" fill="rgb(0,0,0)" filter="url(#bl)"/>
<rect x="69.40" y="350.20" width="13.00" height="4.60" rx="2.93" ry="2.30" fill="rgb(0,0,0)" filter="url(#bl)"/>
<rect x="85.60" y="350.20" width="13.00" height="4.60" rx="2.93" ry="2.30" fill="rgb(0,0,0)" filter="url(#bl)"/>
<rect x="100.60" y="350.20" width="13.00" height="4.60" rx="2.93" ry="2.30" fill="rgb(0,0,0)" filter="url(#bl)"/>
<text x="169.50" y="287.60" font-size="9.2" font-weight="bold" text-anchor="middle" fill="#000" color="#000" style="stroke-width:0.22px">TCL1-002</text>
<line x1="120.9" y1="289.7" x2="212.6" y2="289.7" stroke="#333" stroke-width="1"/>
<text x="126.30" y="296.60" font-size="6.5" font-weight="bold" text-anchor="middle" fill="#111" color="#111" style="stroke-width:0.35px">0.0</text>
<text x="144.00" y="296.60" font-size="6.5" font-weight="bold" text-anchor="middle" fill="#111" color="#111" style="stroke-width:0.35px">0.04</text>
<text x="158.70" y="296.60" font-size="6.5" font-weight="bold" text-anchor="middle" fill="#111" color="#111" style="stroke-width:0.35px">0.16</text>
<text x="176.80" y="296.60" font-size="6.5" font-weight="bold" text-anchor="middle" fill="#111" color="#111" style="stroke-width:0.35px">0.62</text>
<text x="191.20" y="296.60" font-size="6.5" font-weight="bold" text-anchor="middle" fill="#111" color="#111" style="stroke-width:0.35px">2.5</text>
<text x="206.60" y="296.60" font-size="6.5" font-weight="bold" text-anchor="middle" fill="#111" color="#111" style="stroke-width:0.35px">10.0</text>
<rect x="119.30" y="299.00" width="96.30" height="14.40" fill="#e4e4e4" stroke="#3c3c3c" stroke-width="1"/>
<rect x="119.30" y="315.30" width="96.30" height="27.70" fill="#f2f2f2" stroke="#3c3c3c" stroke-width="1"/>
<rect x="119.30" y="345.30" width="96.30" height="14.50" fill="#e6e6e6" stroke="#3c3c3c" stroke-width="1"/>
<rect x="121.85" y="303.70" width="12.50" height="4.20" rx="2.81" ry="2.10" fill="rgb(34,34,34)" filter="url(#bl)"/>
<rect x="136.75" y="303.70" width="12.50" height="4.20" rx="2.81" ry="2.10" fill="rgb(68,68,68)" filter="url(#bl)"/>
<rect x="151.45" y="303.70" width="12.50" height="4.20" rx="2.81" ry="2.10" fill="rgb(56,56,56)" filter="url(#bl)"/>
<rect x="167.45" y="303.70" width="12.50" height="4.20" rx="2.81" ry="2.10" fill="rgb(22,22,22)" filter="url(#bl)"/>
<rect x="183.05" y="303.70" width="12.50" height="4.20" rx="2.81" ry="2.10" fill="rgb(34,34,34)" filter="url(#bl)"/>
<rect x="198.75" y="303.70" width="12.50" height="4.20" rx="2.81" ry="2.10" fill="rgb(22,22,22)" filter="url(#bl)"/>
<rect x="121.85" y="320.60" width="12.50" height="4.00" rx="2.81" ry="2.00" fill="rgb(126,126,126)" filter="url(#bl2)"/>
<rect x="136.75" y="320.60" width="12.50" height="4.00" rx="2.81" ry="2.00" fill="rgb(126,126,126)" filter="url(#bl2)"/>
<rect x="151.45" y="320.60" width="12.50" height="4.00" rx="2.81" ry="2.00" fill="rgb(121,121,121)" filter="url(#bl2)"/>
<rect x="167.45" y="320.60" width="12.50" height="4.00" rx="2.81" ry="2.00" fill="rgb(52,52,52)" filter="url(#bl2)"/>
<rect x="183.05" y="320.10" width="12.50" height="5.00" rx="2.81" ry="2.50" fill="rgb(0,0,0)" filter="url(#bl2)"/>
<rect x="198.75" y="320.60" width="12.50" height="4.00" rx="2.81" ry="2.00" fill="rgb(15,15,15)" filter="url(#bl2)"/>
<rect x="122.35" y="338.50" width="11.50" height="2.00" rx="2.59" ry="1.00" fill="rgb(215,215,215)" filter="url(#bl)"/>
<rect x="137.25" y="338.50" width="11.50" height="2.00" rx="2.59" ry="1.00" fill="rgb(215,215,215)" filter="url(#bl)"/>
<rect x="151.95" y="338.50" width="11.50" height="2.00" rx="2.59" ry="1.00" fill="rgb(215,215,215)" filter="url(#bl)"/>
<rect x="167.95" y="338.50" width="11.50" height="2.00" rx="2.59" ry="1.00" fill="rgb(215,215,215)" filter="url(#bl)"/>
<rect x="183.55" y="338.50" width="11.50" height="2.00" rx="2.59" ry="1.00" fill="rgb(215,215,215)" filter="url(#bl)"/>
<rect x="199.25" y="338.50" width="11.50" height="2.00" rx="2.59" ry="1.00" fill="rgb(212,212,212)" filter="url(#bl)"/>
<rect x="121.60" y="350.40" width="13.00" height="4.80" rx="2.93" ry="2.40" fill="rgb(0,0,0)" filter="url(#bl)"/>
<rect x="136.50" y="350.70" width="13.00" height="4.20" rx="2.93" ry="2.10" fill="rgb(7,7,7)" filter="url(#bl)"/>
<rect x="151.20" y="350.70" width="13.00" height="4.20" rx="2.93" ry="2.10" fill="rgb(7,7,7)" filter="url(#bl)"/>
<rect x="167.20" y="350.70" width="13.00" height="4.20" rx="2.93" ry="2.10" fill="rgb(7,7,7)" filter="url(#bl)"/>
<rect x="182.80" y="350.70" width="13.00" height="4.20" rx="2.93" ry="2.10" fill="rgb(7,7,7)" filter="url(#bl)"/>
<rect x="198.50" y="350.40" width="13.00" height="4.80" rx="2.93" ry="2.40" fill="rgb(0,0,0)" filter="url(#bl)"/>
<text x="269.50" y="287.60" font-size="9.2" font-weight="bold" text-anchor="middle" fill="#000" color="#000" style="stroke-width:0.22px">TCL1-540</text>
<line x1="221.8" y1="289.7" x2="313.2" y2="289.7" stroke="#333" stroke-width="1"/>
<text x="227.50" y="296.60" font-size="6.5" font-weight="bold" text-anchor="middle" fill="#111" color="#111" style="stroke-width:0.35px">0.0</text>
<text x="242.40" y="296.60" font-size="6.5" font-weight="bold" text-anchor="middle" fill="#111" color="#111" style="stroke-width:0.35px">0.04</text>
<text x="259.90" y="296.60" font-size="6.5" font-weight="bold" text-anchor="middle" fill="#111" color="#111" style="stroke-width:0.35px">0.16</text>
<text x="275.40" y="296.60" font-size="6.5" font-weight="bold" text-anchor="middle" fill="#111" color="#111" style="stroke-width:0.35px">0.62</text>
<text x="290.30" y="296.60" font-size="6.5" font-weight="bold" text-anchor="middle" fill="#111" color="#111" style="stroke-width:0.35px">2.5</text>
<text x="305.20" y="296.60" font-size="6.5" font-weight="bold" text-anchor="middle" fill="#111" color="#111" style="stroke-width:0.35px">10.0</text>
<rect x="219.40" y="299.00" width="94.70" height="14.40" fill="#e2e2e2" stroke="#3c3c3c" stroke-width="1"/>
<rect x="219.40" y="315.30" width="94.70" height="27.70" fill="url(#g540)" stroke="#3c3c3c" stroke-width="1"/>
<rect x="219.40" y="345.30" width="94.70" height="14.50" fill="#e6e6e6" stroke="#3c3c3c" stroke-width="1"/>
<rect x="223.90" y="304.00" width="13.00" height="2.20" rx="2.93" ry="1.10" fill="rgb(90,90,90)" filter="url(#bl)"/>
<rect x="223.90" y="307.10" width="13.00" height="2.00" rx="2.93" ry="1.00" fill="rgb(164,164,164)" filter="url(#bl)"/>
<rect x="238.80" y="304.00" width="13.00" height="2.20" rx="2.93" ry="1.10" fill="rgb(101,101,101)" filter="url(#bl)"/>
<rect x="238.80" y="307.10" width="13.00" height="2.00" rx="2.93" ry="1.00" fill="rgb(169,169,169)" filter="url(#bl)"/>
<rect x="253.30" y="304.00" width="13.00" height="2.20" rx="2.93" ry="1.10" fill="rgb(101,101,101)" filter="url(#bl)"/>
<rect x="253.30" y="307.10" width="13.00" height="2.00" rx="2.93" ry="1.00" fill="rgb(169,169,169)" filter="url(#bl)"/>
<rect x="268.10" y="304.00" width="13.00" height="2.20" rx="2.93" ry="1.10" fill="rgb(101,101,101)" filter="url(#bl)"/>
<rect x="268.10" y="307.10" width="13.00" height="2.00" rx="2.93" ry="1.00" fill="rgb(169,169,169)" filter="url(#bl)"/>
<rect x="283.50" y="304.00" width="13.00" height="2.20" rx="2.93" ry="1.10" fill="rgb(22,22,22)" filter="url(#bl)"/>
<rect x="283.50" y="307.10" width="13.00" height="2.00" rx="2.93" ry="1.00" fill="rgb(134,134,134)" filter="url(#bl)"/>
<rect x="298.90" y="304.00" width="13.00" height="2.20" rx="2.93" ry="1.10" fill="rgb(11,11,11)" filter="url(#bl)"/>
<rect x="298.90" y="307.10" width="13.00" height="2.00" rx="2.93" ry="1.00" fill="rgb(129,129,129)" filter="url(#bl)"/>
<rect x="224.65" y="322.00" width="11.50" height="2.60" rx="2.59" ry="1.30" fill="rgb(180,180,180)" filter="url(#bl)"/>
<rect x="239.55" y="322.00" width="11.50" height="2.60" rx="2.59" ry="1.30" fill="rgb(180,180,180)" filter="url(#bl)"/>
<rect x="254.05" y="322.00" width="11.50" height="2.60" rx="2.59" ry="1.30" fill="rgb(176,176,176)" filter="url(#bl)"/>
<rect x="268.85" y="322.00" width="11.50" height="2.60" rx="2.59" ry="1.30" fill="rgb(158,158,158)" filter="url(#bl)"/>
<rect x="284.25" y="321.50" width="11.50" height="3.60" rx="2.59" ry="1.80" fill="rgb(18,18,18)" filter="url(#bl)"/>
<rect x="299.65" y="322.00" width="11.50" height="2.60" rx="2.59" ry="1.30" fill="rgb(112,112,112)" filter="url(#bl)"/>
<rect x="223.00" y="352.30" width="14.80" height="2.80" rx="3.33" ry="1.40" fill="rgb(7,7,7)" filter="url(#bl)"/>
<rect x="237.90" y="352.30" width="14.80" height="2.80" rx="3.33" ry="1.40" fill="rgb(7,7,7)" filter="url(#bl)"/>
<rect x="252.40" y="352.30" width="14.80" height="2.80" rx="3.33" ry="1.40" fill="rgb(7,7,7)" filter="url(#bl)"/>
<rect x="267.20" y="352.30" width="14.80" height="2.80" rx="3.33" ry="1.40" fill="rgb(7,7,7)" filter="url(#bl)"/>
<rect x="282.60" y="352.30" width="14.80" height="2.80" rx="3.33" ry="1.40" fill="rgb(7,7,7)" filter="url(#bl)"/>
<rect x="298.00" y="352.30" width="14.80" height="2.80" rx="3.33" ry="1.40" fill="rgb(7,7,7)" filter="url(#bl)"/>
<text x="370.70" y="287.60" font-size="9.2" font-weight="bold" text-anchor="middle" fill="#000" color="#000" style="stroke-width:0.22px">TCL1-551</text>
<line x1="322.8" y1="289.7" x2="414.2" y2="289.7" stroke="#333" stroke-width="1"/>
<text x="328.70" y="296.60" font-size="6.5" font-weight="bold" text-anchor="middle" fill="#111" color="#111" style="stroke-width:0.35px">0.0</text>
<text x="343.80" y="296.60" font-size="6.5" font-weight="bold" text-anchor="middle" fill="#111" color="#111" style="stroke-width:0.35px">0.04</text>
<text x="361.10" y="296.60" font-size="6.5" font-weight="bold" text-anchor="middle" fill="#111" color="#111" style="stroke-width:0.35px">0.16</text>
<text x="376.50" y="296.60" font-size="6.5" font-weight="bold" text-anchor="middle" fill="#111" color="#111" style="stroke-width:0.35px">0.62</text>
<text x="391.70" y="296.60" font-size="6.5" font-weight="bold" text-anchor="middle" fill="#111" color="#111" style="stroke-width:0.35px">2.5</text>
<text x="407.20" y="296.60" font-size="6.5" font-weight="bold" text-anchor="middle" fill="#111" color="#111" style="stroke-width:0.35px">10.0</text>
<rect x="319.80" y="299.00" width="95.20" height="14.40" fill="url(#g551)" stroke="#3c3c3c" stroke-width="1"/>
<rect x="319.80" y="315.30" width="95.20" height="27.70" fill="#f0f0f0" stroke="#3c3c3c" stroke-width="1"/>
<rect x="319.80" y="345.30" width="95.20" height="14.50" fill="#e6e6e6" stroke="#3c3c3c" stroke-width="1"/>
<rect x="324.00" y="322.00" width="11.00" height="3.20" rx="2.48" ry="1.60" fill="rgb(101,101,101)" filter="url(#bl)"/>
<rect x="339.60" y="322.00" width="11.00" height="3.20" rx="2.48" ry="1.60" fill="rgb(124,124,124)" filter="url(#bl)"/>
<rect x="355.00" y="322.00" width="11.00" height="3.20" rx="2.48" ry="1.60" fill="rgb(112,112,112)" filter="url(#bl)"/>
<rect x="371.10" y="322.00" width="11.00" height="3.20" rx="2.48" ry="1.60" fill="rgb(86,86,86)" filter="url(#bl)"/>
<rect x="386.70" y="322.00" width="11.00" height="3.20" rx="2.48" ry="1.60" fill="rgb(99,99,99)" filter="url(#bl)"/>
<rect x="401.90" y="322.00" width="11.00" height="3.20" rx="2.48" ry="1.60" fill="rgb(117,117,117)" filter="url(#bl)"/>
<rect x="322.50" y="352.10" width="14.00" height="3.00" rx="3.15" ry="1.50" fill="rgb(0,0,0)" filter="url(#bl)"/>
<rect x="338.10" y="352.10" width="14.00" height="3.00" rx="3.15" ry="1.50" fill="rgb(7,7,7)" filter="url(#bl)"/>
<rect x="353.50" y="352.10" width="14.00" height="3.00" rx="3.15" ry="1.50" fill="rgb(7,7,7)" filter="url(#bl)"/>
<rect x="369.60" y="352.10" width="14.00" height="3.00" rx="3.15" ry="1.50" fill="rgb(7,7,7)" filter="url(#bl)"/>
<rect x="385.20" y="352.10" width="14.00" height="3.00" rx="3.15" ry="1.50" fill="rgb(7,7,7)" filter="url(#bl)"/>
<rect x="400.40" y="352.10" width="14.00" height="3.00" rx="3.15" ry="1.50" fill="rgb(0,0,0)" filter="url(#bl)"/>
<text x="469.50" y="287.60" font-size="9.2" font-weight="bold" text-anchor="middle" fill="#000" color="#000" style="stroke-width:0.22px">TCL1-870</text>
<line x1="421.8" y1="289.7" x2="514.2" y2="289.7" stroke="#333" stroke-width="1"/>
<text x="427.50" y="296.60" font-size="6.5" font-weight="bold" text-anchor="middle" fill="#111" color="#111" style="stroke-width:0.35px">0.0</text>
<text x="443.10" y="296.60" font-size="6.5" font-weight="bold" text-anchor="middle" fill="#111" color="#111" style="stroke-width:0.35px">0.04</text>
<text x="460.60" y="296.60" font-size="6.5" font-weight="bold" text-anchor="middle" fill="#111" color="#111" style="stroke-width:0.35px">0.16</text>
<text x="477.40" y="296.60" font-size="6.5" font-weight="bold" text-anchor="middle" fill="#111" color="#111" style="stroke-width:0.35px">0.62</text>
<text x="492.80" y="296.60" font-size="6.5" font-weight="bold" text-anchor="middle" fill="#111" color="#111" style="stroke-width:0.35px">2.5</text>
<text x="507.20" y="296.60" font-size="6.5" font-weight="bold" text-anchor="middle" fill="#111" color="#111" style="stroke-width:0.35px">10.0</text>
<rect x="419.80" y="299.00" width="96.80" height="14.40" fill="url(#g870)" stroke="#3c3c3c" stroke-width="1"/>
<rect x="419.80" y="315.30" width="96.80" height="27.70" fill="#f0f0f0" stroke="#3c3c3c" stroke-width="1"/>
<rect x="419.80" y="345.30" width="96.80" height="14.50" fill="#e8e8e8" stroke="#3c3c3c" stroke-width="1"/>
<rect x="424.90" y="304.60" width="11.00" height="2.20" rx="2.48" ry="1.10" fill="rgb(198,198,198)" filter="url(#bl)"/>
<rect x="441.00" y="304.60" width="11.00" height="2.20" rx="2.48" ry="1.10" fill="rgb(198,198,198)" filter="url(#bl)"/>
<rect x="456.30" y="304.60" width="11.00" height="2.20" rx="2.48" ry="1.10" fill="rgb(198,198,198)" filter="url(#bl)"/>
<rect x="471.70" y="304.60" width="11.00" height="2.20" rx="2.48" ry="1.10" fill="rgb(189,189,189)" filter="url(#bl)"/>
<rect x="486.70" y="304.60" width="11.00" height="2.20" rx="2.48" ry="1.10" fill="rgb(202,202,202)" filter="url(#bl)"/>
<rect x="502.30" y="304.60" width="11.00" height="2.20" rx="2.48" ry="1.10" fill="rgb(194,194,194)" filter="url(#bl)"/>
<rect x="424.15" y="322.40" width="12.50" height="2.80" rx="2.81" ry="1.40" fill="rgb(22,22,22)" filter="url(#bl)"/>
<rect x="440.25" y="322.40" width="12.50" height="2.80" rx="2.81" ry="1.40" fill="rgb(11,11,11)" filter="url(#bl)"/>
<rect x="455.55" y="322.40" width="12.50" height="2.80" rx="2.81" ry="1.40" fill="rgb(18,18,18)" filter="url(#bl)"/>
<rect x="470.95" y="322.40" width="12.50" height="2.80" rx="2.81" ry="1.40" fill="rgb(18,18,18)" filter="url(#bl)"/>
<rect x="485.95" y="322.40" width="12.50" height="2.80" rx="2.81" ry="1.40" fill="rgb(18,18,18)" filter="url(#bl)"/>
<rect x="501.55" y="322.40" width="12.50" height="2.80" rx="2.81" ry="1.40" fill="rgb(34,34,34)" filter="url(#bl)"/>
<rect x="422.65" y="351.50" width="15.50" height="2.80" rx="3.49" ry="1.40" fill="rgb(7,7,7)" filter="url(#bl)"/>
<rect x="438.75" y="351.50" width="15.50" height="2.80" rx="3.49" ry="1.40" fill="rgb(7,7,7)" filter="url(#bl)"/>
<rect x="454.05" y="351.50" width="15.50" height="2.80" rx="3.49" ry="1.40" fill="rgb(7,7,7)" filter="url(#bl)"/>
<rect x="469.45" y="351.50" width="15.50" height="2.80" rx="3.49" ry="1.40" fill="rgb(7,7,7)" filter="url(#bl)"/>
<rect x="484.45" y="351.50" width="15.50" height="2.80" rx="3.49" ry="1.40" fill="rgb(7,7,7)" filter="url(#bl)"/>
<rect x="500.05" y="351.50" width="15.50" height="2.80" rx="3.49" ry="1.40" fill="rgb(0,0,0)" filter="url(#bl)"/>
</svg></body></html>
